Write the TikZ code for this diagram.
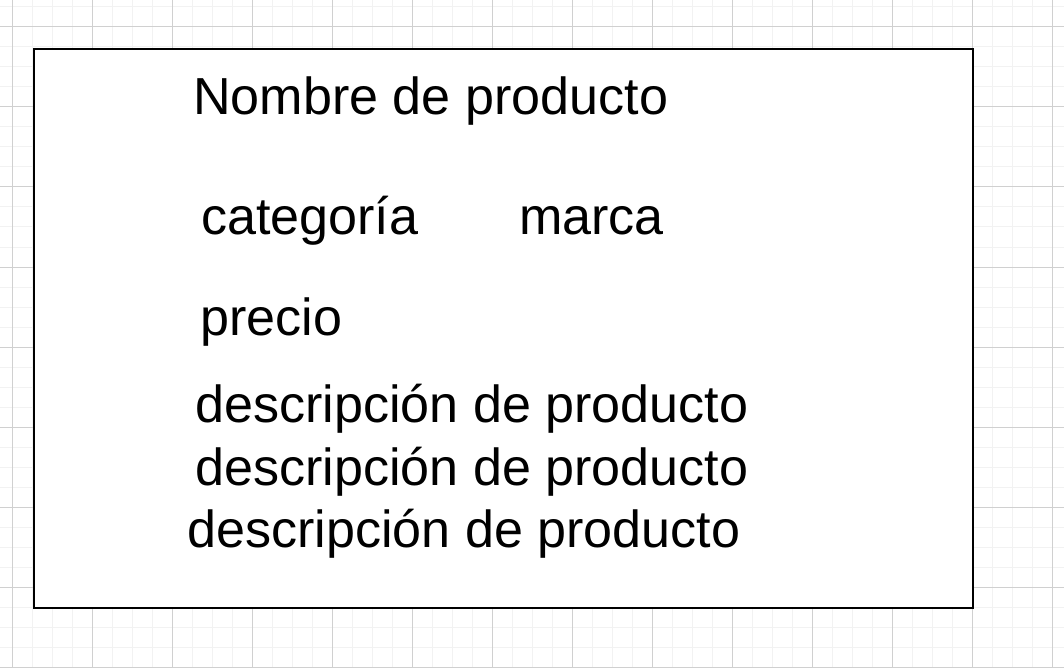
\documentclass[tikz,border=0pt]{standalone}
\usepackage{fontspec}
\setmainfont{Liberation Sans}
\begin{document}
\begin{tikzpicture}[x=1pt,y=-1pt,
  minorline/.style={draw={rgb,255:red,242;green,242;blue,242},line width=1pt},
  majorline/.style={draw={rgb,255:red,208;green,208;blue,208},line width=1pt},
  lbl/.style={anchor=base west,inner sep=0pt,font=\fontsize{52.1}{60}\selectfont}]
\useasboundingbox (0,0) rectangle (1064,668);
\fill[white] (0,0) rectangle (1064,668);
\foreach \x in {12,32,...,1064} \draw[minorline] (\x,0) -- (\x,668);
\foreach \y in {7,27,...,668} \draw[minorline] (0,\y) -- (1064,\y);
\foreach \x in {12,92,...,1064} \draw[majorline] (\x,0) -- (\x,668);
\foreach \y in {27,107,...,668} \draw[majorline] (0,\y) -- (1064,\y);
\node[draw=black,fill=white,line width=2pt,minimum width=939pt,minimum height=559pt,anchor=north west,inner sep=0pt] (box) at (33,48) {};
\node[lbl] (nombre) at (193,115) {Nombre de producto};
\node[lbl] (cat) at (201,234) {categoría};
\node[lbl] (marca) at (519,234) {marca};
\node[lbl] (precio) at (200,335) {precio};
\node[lbl] (d1) at (195,422) {descripción de producto};
\node[lbl] (d2) at (195,485) {descripción de producto};
\node[lbl] (d3) at (187,547) {descripción de producto};
\end{tikzpicture}
\end{document}
